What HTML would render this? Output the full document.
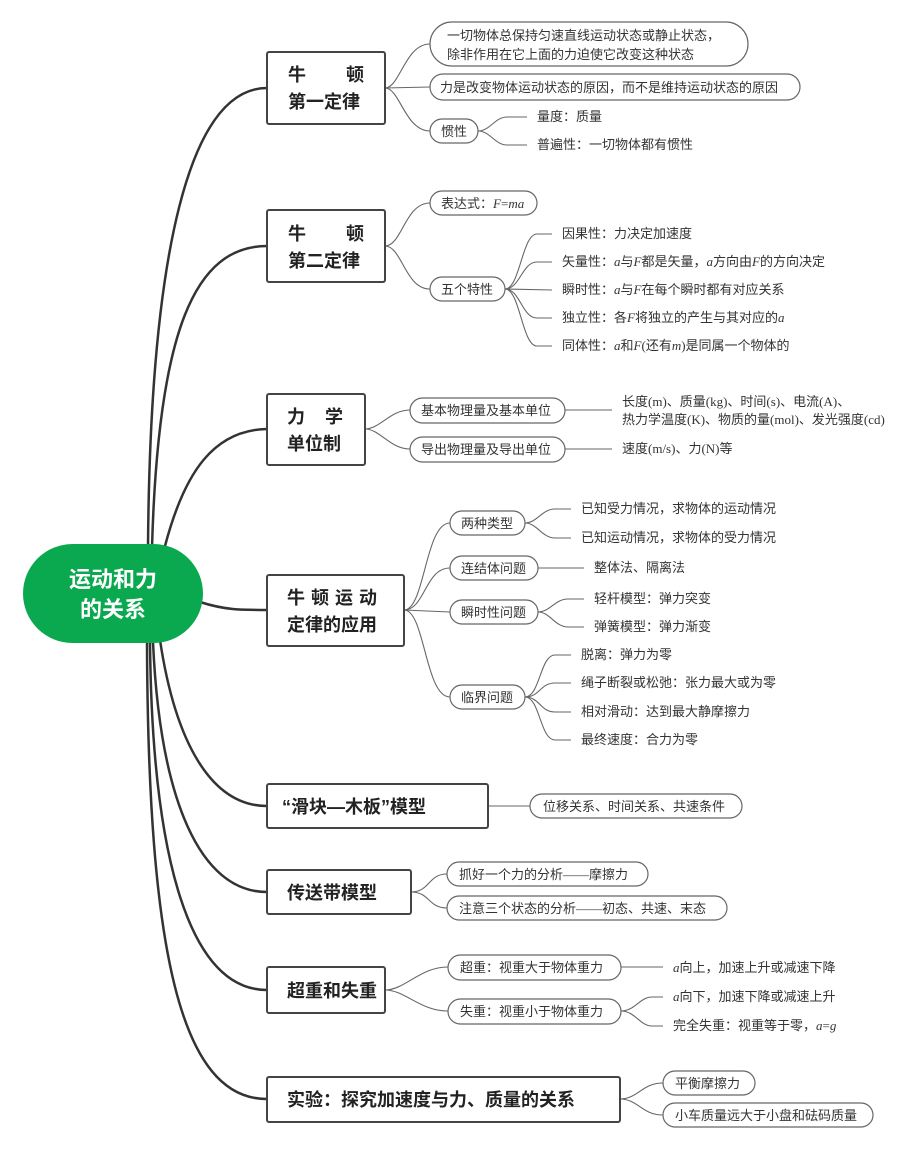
<!DOCTYPE html>
<html><head><meta charset="utf-8"><style>
html,body{margin:0;padding:0;background:#fff;}
svg{display:block;}
text{font-family:"Liberation Serif","Noto Sans CJK SC",sans-serif;fill:#333;}
.l{font-size:13px;}
.t{font-size:18px;font-weight:bold;fill:#222;font-family:"Liberation Sans","Noto Sans CJK SC",sans-serif;}
.p{fill:#fff;stroke:#666;stroke-width:1.2;}
.b{fill:#fff;stroke:#444;stroke-width:2;}
.c{fill:none;stroke:#666;stroke-width:1.1;}
.m{fill:none;stroke:#333;stroke-width:2.5;}
</style></head><body>
<svg width="919" height="1149" viewBox="0 0 919 1149" xmlns="http://www.w3.org/2000/svg">
<path class="m" d="M148 548 C150 250,190 88,267 88"/>
<path class="m" d="M152 548 C158 330,195 246,267 246"/>
<path class="m" d="M165 546 C185 470,215 430,267 429"/>
<path class="m" d="M200 602 C225 610,240 610,267 610"/>
<path class="m" d="M160 640 C175 740,210 806,267 806"/>
<path class="m" d="M153 642 C160 800,200 892,267 892"/>
<path class="m" d="M150 642 C152 860,190 990,267 990"/>
<path class="m" d="M147 642 C148 950,180 1099,267 1099"/>
<rect x="23" y="544" width="180" height="99" rx="49.5" fill="#0aa84f"/>
<text x="113" y="587" text-anchor="middle" style="font-size:22px;font-weight:bold;fill:#fff;font-family:'Liberation Sans','Noto Sans CJK SC',sans-serif">运动和力</text>
<text x="113" y="617" text-anchor="middle" style="font-size:22px;font-weight:bold;fill:#fff;font-family:'Liberation Sans','Noto Sans CJK SC',sans-serif">的关系</text>

<path class="c" d="M385 88 C400 88,405 44,430 44"/>
<path class="c" d="M385 88 L430 87"/>
<path class="c" d="M385 88 C400 88,405 131,430 131"/>
<rect class="b" x="267" y="52" width="118" height="72" rx="2"/>
<text class="t" x="288" y="81">牛</text><text class="t" x="346" y="81">顿</text>
<text class="t" x="288" y="108">第一定律</text>
<rect class="p" x="430" y="22" width="318" height="44" rx="22"/>
<text class="l" x="447" y="40">一切物体总保持匀速直线运动状态或静止状态，</text>
<text class="l" x="447" y="59">除非作用在它上面的力迫使它改变这种状态</text>
<rect class="p" x="430" y="74" width="370" height="26" rx="13"/>
<text class="l" x="440" y="92">力是改变物体运动状态的原因，而不是维持运动状态的原因</text>
<rect class="p" x="430" y="119" width="48" height="24" rx="12"/>
<text class="l" x="441" y="136">惯性</text>
<path class="c" d="M478 131 C490 131,495 117,507 117 L527 117"/>
<path class="c" d="M478 131 C490 131,495 145,507 145 L527 145"/>
<text class="l" x="537" y="121">量度：质量</text>
<text class="l" x="537" y="149">普遍性：一切物体都有惯性</text>

<path class="c" d="M385 246 C402 246,405 203,430 203"/>
<path class="c" d="M385 246 C402 246,405 289,430 289"/>
<rect class="b" x="267" y="210" width="118" height="72" rx="2"/>
<text class="t" x="288" y="240">牛</text><text class="t" x="346" y="240">顿</text>
<text class="t" x="288" y="267">第二定律</text>
<rect class="p" x="430" y="191" width="107" height="24" rx="12"/>
<text class="l" x="441" y="208">表达式：<tspan font-style="italic">F</tspan>=<tspan font-style="italic">ma</tspan></text>
<rect class="p" x="430" y="277" width="75" height="24" rx="12"/>
<text class="l" x="441" y="294">五个特性</text>
<path class="c" d="M505 289 C520 289,522 234,537 234 L552 234"/>
<path class="c" d="M505 289 C520 289,522 262,537 262 L552 262"/>
<path class="c" d="M505 289 L552 290"/>
<path class="c" d="M505 289 C520 289,522 318,537 318 L552 318"/>
<path class="c" d="M505 289 C520 289,522 346,537 346 L552 346"/>
<text class="l" x="562" y="238">因果性：力决定加速度</text>
<text class="l" x="562" y="266">矢量性：<tspan font-style="italic">a</tspan>与<tspan font-style="italic">F</tspan>都是矢量，<tspan font-style="italic">a</tspan>方向由<tspan font-style="italic">F</tspan>的方向决定</text>
<text class="l" x="562" y="294">瞬时性：<tspan font-style="italic">a</tspan>与<tspan font-style="italic">F</tspan>在每个瞬时都有对应关系</text>
<text class="l" x="562" y="322">独立性：各<tspan font-style="italic">F</tspan>将独立的产生与其对应的<tspan font-style="italic">a</tspan></text>
<text class="l" x="562" y="350">同体性：<tspan font-style="italic">a</tspan>和<tspan font-style="italic">F</tspan>(还有<tspan font-style="italic">m</tspan>)是同属一个物体的</text>

<path class="c" d="M365 429 C380 429,390 410,410 410"/>
<path class="c" d="M365 429 C380 429,390 449,410 449"/>
<rect class="b" x="267" y="394" width="98" height="71" rx="2"/>
<text class="t" x="287" y="423">力</text><text class="t" x="325" y="423">学</text>
<text class="t" x="287" y="450">单位制</text>
<rect class="p" x="410" y="398" width="155" height="25" rx="12.5"/>
<text class="l" x="421" y="415">基本物理量及基本单位</text>
<rect class="p" x="410" y="437" width="155" height="25" rx="12.5"/>
<text class="l" x="421" y="454">导出物理量及导出单位</text>
<path class="c" d="M565 410 L612 410"/>
<path class="c" d="M565 449 L612 449"/>
<text class="l" x="622" y="406">长度(m)、质量(kg)、时间(s)、电流(A)、</text>
<text class="l" x="622" y="424">热力学温度(K)、物质的量(mol)、发光强度(cd)</text>
<text class="l" x="622" y="453">速度(m/s)、力(N)等</text>

<path class="c" d="M404 610 C425 610,425 523,450 523"/>
<path class="c" d="M404 610 C425 610,425 568,450 568"/>
<path class="c" d="M404 610 L450 612"/>
<path class="c" d="M404 610 C425 610,425 697,450 697"/>
<rect class="b" x="267" y="575" width="137" height="71" rx="2"/>
<text class="t" x="287" y="604" letter-spacing="6">牛顿运动</text>
<text class="t" x="287" y="631">定律的应用</text>
<rect class="p" x="450" y="511" width="75" height="24" rx="12"/>
<text class="l" x="461" y="528">两种类型</text>
<rect class="p" x="450" y="556" width="88" height="24" rx="12"/>
<text class="l" x="461" y="573">连结体问题</text>
<rect class="p" x="450" y="600" width="88" height="24" rx="12"/>
<text class="l" x="461" y="617">瞬时性问题</text>
<rect class="p" x="450" y="685" width="75" height="24" rx="12"/>
<text class="l" x="461" y="702">临界问题</text>
<path class="c" d="M525 523 C537 523,542 509,555 509 L571 509"/>
<path class="c" d="M525 523 C537 523,542 538,555 538 L571 538"/>
<path class="c" d="M538 568 L584 568"/>
<path class="c" d="M538 612 C550 612,555 599,568 599 L584 599"/>
<path class="c" d="M538 612 C550 612,555 627,568 627 L584 627"/>
<path class="c" d="M525 697 C540 697,540 655,555 655 L571 655"/>
<path class="c" d="M525 697 C540 697,540 683,555 683 L571 683"/>
<path class="c" d="M525 697 C540 697,540 712,555 712 L571 712"/>
<path class="c" d="M525 697 C540 697,540 740,555 740 L571 740"/>
<text class="l" x="581" y="513">已知受力情况，求物体的运动情况</text>
<text class="l" x="581" y="542">已知运动情况，求物体的受力情况</text>
<text class="l" x="594" y="572">整体法、隔离法</text>
<text class="l" x="594" y="603">轻杆模型：弹力突变</text>
<text class="l" x="594" y="631">弹簧模型：弹力渐变</text>
<text class="l" x="581" y="659">脱离：弹力为零</text>
<text class="l" x="581" y="687">绳子断裂或松弛：张力最大或为零</text>
<text class="l" x="581" y="716">相对滑动：达到最大静摩擦力</text>
<text class="l" x="581" y="744">最终速度：合力为零</text>

<path class="c" d="M488 806 L530 806"/>
<rect class="b" x="267" y="784" width="221" height="44" rx="2"/>
<text class="t" x="282" y="813">“滑块—木板”模型</text>
<rect class="p" x="530" y="794" width="212" height="24" rx="12"/>
<text class="l" x="543" y="811">位移关系、时间关系、共速条件</text>

<path class="c" d="M411 892 C430 892,428 874,447 874"/>
<path class="c" d="M411 892 C430 892,428 908,447 908"/>
<rect class="b" x="267" y="870" width="144" height="44" rx="2"/>
<text class="t" x="287" y="899">传送带模型</text>
<rect class="p" x="447" y="862" width="201" height="24" rx="12"/>
<text class="l" x="459" y="879">抓好一个力的分析——摩擦力</text>
<rect class="p" x="447" y="896" width="280" height="24" rx="12"/>
<text class="l" x="459" y="913">注意三个状态的分析——初态、共速、末态</text>

<path class="c" d="M385 990 C405 990,420 967,448 967"/>
<path class="c" d="M385 990 C405 990,420 1011,448 1011"/>
<rect class="b" x="267" y="967" width="118" height="46" rx="2"/>
<text class="t" x="287" y="997">超重和失重</text>
<rect class="p" x="448" y="955" width="173" height="25" rx="12.5"/>
<text class="l" x="460" y="972">超重：视重大于物体重力</text>
<rect class="p" x="448" y="999" width="173" height="25" rx="12.5"/>
<text class="l" x="460" y="1016">失重：视重小于物体重力</text>
<path class="c" d="M621 967 L663 967"/>
<path class="c" d="M621 1011 C635 1011,640 997,652 997 L663 997"/>
<path class="c" d="M621 1011 C635 1011,640 1026,652 1026 L663 1026"/>
<text class="l" x="673" y="972"><tspan font-style="italic">a</tspan>向上，加速上升或减速下降</text>
<text class="l" x="673" y="1001"><tspan font-style="italic">a</tspan>向下，加速下降或减速上升</text>
<text class="l" x="673" y="1030">完全失重：视重等于零，<tspan font-style="italic">a</tspan>=<tspan font-style="italic">g</tspan></text>

<path class="c" d="M620 1099 C638 1099,642 1083,663 1083"/>
<path class="c" d="M620 1099 C638 1099,642 1115,663 1115"/>
<rect class="b" x="267" y="1077" width="353" height="45" rx="2"/>
<text class="t" x="287" y="1106">实验：探究加速度与力、质量的关系</text>
<rect class="p" x="663" y="1071" width="92" height="24" rx="12"/>
<text class="l" x="675" y="1088">平衡摩擦力</text>
<rect class="p" x="663" y="1103" width="210" height="24" rx="12"/>
<text class="l" x="675" y="1120">小车质量远大于小盘和砝码质量</text>
</svg>
</body></html>
